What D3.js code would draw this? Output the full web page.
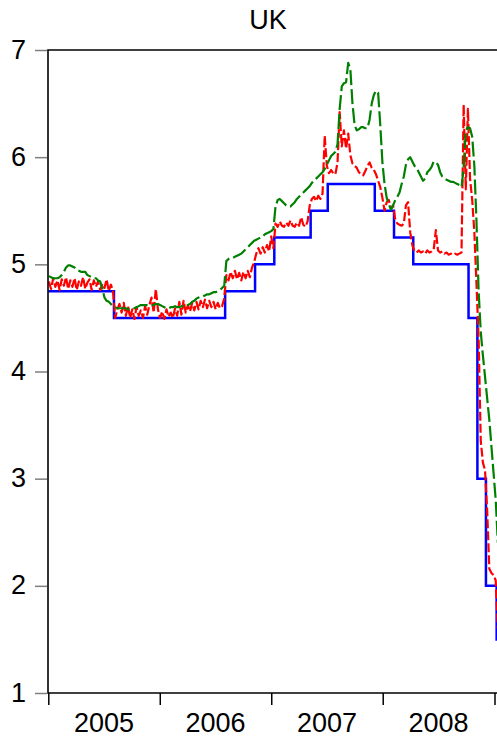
<!DOCTYPE html>
<html><head><meta charset="utf-8">
<script src="https://cdn.jsdelivr.net/npm/d3@7"></script>
<style>body{margin:0;background:#fff} svg{display:block}</style>
</head><body>
<svg id="c" width="497" height="739"></svg>
<script>
// ---------- data ----------
const title = "UK";
const yearLabels = ["2005", "2006", "2007", "2008"];
const yearTicks = ["2005-01-01", "2006-01-01", "2007-01-01", "2008-01-01", "2009-01-01"];
const yTicks = [1, 2, 3, 4, 5, 6, 7];

// Bank Rate (blue step line): change dates and levels
const bankRateDates = ["2005-01-01","2005-08-04","2006-08-03","2006-11-09","2007-01-11","2007-05-10","2007-07-05","2007-12-06","2008-02-07","2008-04-10","2008-10-08","2008-11-06","2008-12-04","2009-01-08","2009-01-15"];
const bankRateValues = [4.75,4.50,4.75,5.00,5.25,5.50,5.75,5.50,5.25,5.00,4.50,3.00,2.00,1.50,1.50];

// weekly observations starting on this Monday
const weekStart = "2005-01-03";

// red dashed series (short-term market rate), weekly readings
const redValues = [
4.84,4.77,4.87,4.79,4.85,4.76,4.86,4.80,4.88,4.77,
4.85,4.79,4.87,4.76,4.84,4.80,4.88,4.77,4.83,4.86,
4.76,4.85,4.79,4.84,4.76,4.82,4.78,4.86,4.75,4.81,
4.75,4.50,4.58,4.63,4.55,4.64,4.52,4.61,4.50,4.58,
4.49,4.60,4.52,4.57,4.50,4.61,4.53,4.62,4.69,4.55,
4.77,4.58,4.50,4.56,4.49,4.58,4.51,4.55,4.50,4.59,
4.52,4.65,4.53,4.66,4.55,4.62,4.56,4.64,4.57,4.65,
4.58,4.66,4.60,4.67,4.59,4.66,4.60,4.65,4.58,4.64,
4.59,4.61,4.68,4.90,4.85,4.93,4.87,4.94,4.86,4.92,
4.85,4.93,4.87,4.94,4.88,4.97,5.02,5.10,5.15,5.10,
5.16,5.11,5.18,5.12,5.26,5.15,5.38,5.35,5.40,5.36,
5.35,5.39,5.36,5.41,5.36,5.35,5.39,5.36,5.44,5.37,
5.35,5.40,5.55,5.61,5.63,5.59,5.64,5.61,5.66,6.20,
5.92,5.85,5.88,5.85,5.84,5.95,6.42,6.10,6.25,6.08,
6.22,6.02,5.94,5.92,5.90,5.86,5.84,5.83,5.87,5.92,
5.95,5.90,5.88,5.84,5.78,5.72,5.62,5.50,5.58,5.60,
5.52,5.55,5.42,5.38,5.37,5.36,5.38,5.55,5.58,5.30,
5.18,5.12,5.11,5.13,5.11,5.12,5.10,5.13,5.11,5.12,
5.14,5.32,5.13,5.11,5.12,5.10,5.11,5.09,5.10,5.09,
5.10,5.09,5.10,5.11,6.49,5.70,6.45,5.80,5.60,5.30,
4.82,4.30,3.35,3.15,3.08,2.70,2.16,2.12,2.10,2.05,1.60
];

// green long-dash series (longer-term market rate), weekly readings
const greenValues = [
4.89,4.88,4.87,4.87,4.87,4.88,4.90,4.93,4.97,4.99,
4.99,4.98,4.97,4.95,4.94,4.93,4.93,4.93,4.90,4.89,
4.88,4.87,4.87,4.85,4.84,4.77,4.69,4.66,4.65,4.63,
4.61,4.60,4.59,4.59,4.59,4.59,4.59,4.58,4.58,4.58,
4.59,4.60,4.61,4.62,4.62,4.62,4.62,4.62,4.62,4.62,
4.63,4.63,4.62,4.61,4.60,4.59,4.59,4.60,4.60,4.61,
4.60,4.60,4.61,4.61,4.61,4.62,4.63,4.65,4.66,4.68,
4.69,4.70,4.70,4.71,4.72,4.72,4.73,4.74,4.74,4.75,
4.76,4.78,4.80,5.03,5.05,5.06,5.06,5.07,5.08,5.09,
5.10,5.12,5.14,5.16,5.18,5.20,5.22,5.23,5.24,5.25,
5.26,5.28,5.29,5.30,5.31,5.33,5.54,5.60,5.61,5.59,
5.57,5.55,5.54,5.54,5.56,5.58,5.61,5.63,5.65,5.67,
5.69,5.71,5.73,5.76,5.78,5.80,5.82,5.84,5.86,5.89,
5.93,5.97,6.01,6.03,6.05,6.12,6.45,6.66,6.69,6.70,
6.88,6.82,6.50,6.30,6.25,6.26,6.28,6.28,6.27,6.27,
6.35,6.50,6.58,6.62,6.60,6.30,5.95,5.75,5.62,5.56,
5.51,5.55,5.60,5.63,5.67,5.75,5.82,5.93,5.98,6.00,
5.96,5.92,5.90,5.86,5.82,5.78,5.80,5.86,5.88,5.91,
5.96,5.95,5.93,5.86,5.82,5.80,5.79,5.78,5.77,5.77,
5.76,5.75,5.74,5.72,5.90,6.25,6.28,6.27,6.19,5.92,
5.40,4.75,4.37,4.15,3.95,3.75,3.55,3.30,3.05,2.80,2.40
];

// ---------- drawing ----------
const parse = d3.utcParse("%Y-%m-%d");
const svg = d3.select("#c");
const W = 497, H = 739;
const mLeft = 48, mTop = 50, mBottom = 693;
const font = "'Liberation Sans', Arial, sans-serif";
const fs = 27;

const x = d3.scaleUtc()
  .domain([parse("2005-01-01"), parse("2009-01-01")])
  .range([48.3, 494.5]);
const y = d3.scaleLinear().domain([1, 7]).range([mBottom, mTop]);

const start = parse(weekStart);
const weekly = vals => vals.map((v, i) => ({ d: d3.utcDay.offset(start, 7 * i), v }));
const redData = weekly(redValues);
const greenData = weekly(greenValues);
const blueData = bankRateDates.map((s, i) => ({ d: parse(s), v: bankRateValues[i] }));

svg.append("rect").attr("width", W).attr("height", H).attr("fill", "#fff");

svg.append("clipPath").attr("id", "plot")
  .append("rect").attr("x", mLeft).attr("y", mTop - 2).attr("width", 480).attr("height", mBottom - mTop + 4);

const g = svg.append("g").attr("clip-path", "url(#plot)");

const line = d3.line().x(d => x(d.d)).y(d => y(d.v));
const stepLine = d3.line().x(d => x(d.d)).y(d => y(d.v)).curve(d3.curveStepAfter);

g.append("path").datum(blueData).attr("d", stepLine)
  .attr("fill", "none").attr("stroke", "#0000ff").attr("stroke-width", 2.5);
g.append("path").datum(redData).attr("d", line)
  .attr("fill", "none").attr("stroke", "#ff0000").attr("stroke-width", 2.2)
  .attr("stroke-dasharray", "9,3").attr("stroke-linejoin", "round");
g.append("path").datum(greenData).attr("d", line)
  .attr("fill", "none").attr("stroke", "#008000").attr("stroke-width", 2.2)
  .attr("stroke-dasharray", "15,4").attr("stroke-linejoin", "round");

// frame (right edge lies off the picture)
svg.append("path")
  .attr("d", `M${W + 5},${mTop}H${mLeft}V${mBottom}H${W + 5}`)
  .attr("fill", "none").attr("stroke", "#000").attr("stroke-width", 1.6);

// y axis
const yAxis = svg.append("g").attr("transform", `translate(${mLeft - 1},0)`)
  .call(d3.axisLeft(y).tickValues(yTicks).tickSize(12).tickPadding(9).tickFormat(d3.format("d")));
yAxis.select(".domain").remove();
yAxis.selectAll(".tick line").attr("stroke", "#7f7f7f").attr("stroke-width", 1.5);
yAxis.selectAll(".tick text").attr("font-family", font).attr("font-size", fs)
  .attr("fill", "#000").attr("dy", "0.3em");

// x axis
const xAxis = svg.append("g").attr("transform", `translate(0,${mBottom})`)
  .call(d3.axisBottom(x).tickValues(yearTicks.map(parse)).tickSize(12).tickFormat(""));
xAxis.select(".domain").remove();
xAxis.selectAll(".tick line").attr("stroke", "#000").attr("stroke-width", 1.5);

svg.append("g").selectAll("text").data(yearLabels).join("text")
  .attr("x", (d, i) => (x(parse(yearTicks[i])) + x(parse(yearTicks[i + 1]))) / 2)
  .attr("y", 732)
  .attr("text-anchor", "middle")
  .attr("font-family", font).attr("font-size", fs).attr("fill", "#000")
  .text(d => d);

svg.append("text").attr("x", 268).attr("y", 29).attr("text-anchor", "middle")
  .attr("font-family", font).attr("font-size", fs).attr("fill", "#000").text(title);
</script>
</body></html>
